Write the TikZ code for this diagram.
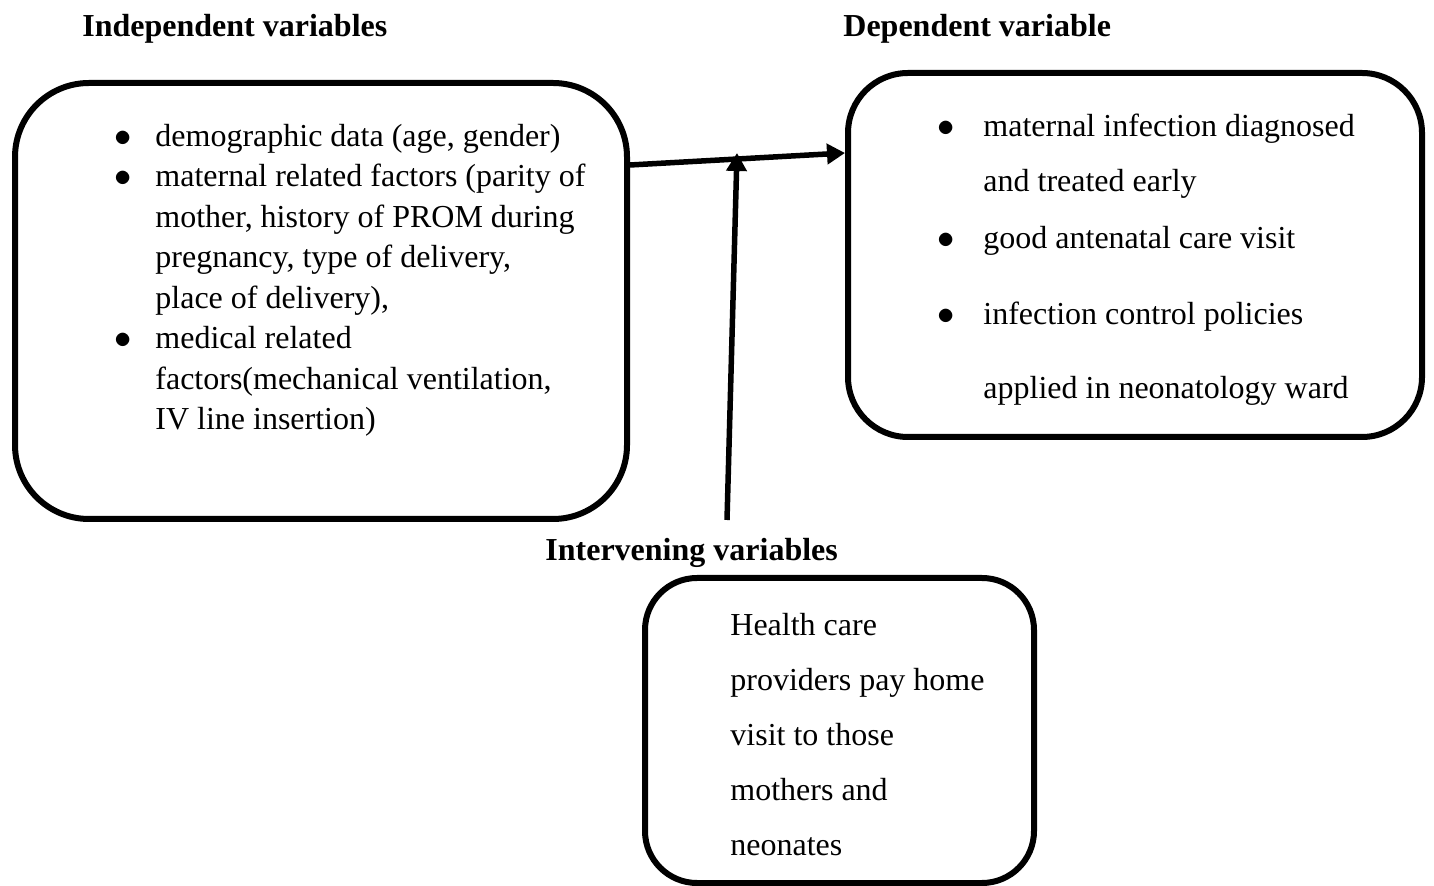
\documentclass[tikz,border=0pt]{standalone}
\usepackage{fontspec}
\setmainfont{Liberation Serif}
\usetikzlibrary{arrows.meta,positioning,calc}

\newcommand{\bul}[1]{\makebox[#1][l]{\hspace*{1pt}$\bullet$}}

\begin{document}
\begin{tikzpicture}[
  x=.5pt,y=-.5pt,
  box/.style={draw,line width=3pt,inner sep=0pt},
  txt/.style={font=\fontsize{16}{20.25}\selectfont,align=left,inner sep=0pt,anchor=base west},
  head/.style={font=\fontsize{16}{20}\selectfont\bfseries,inner sep=0pt,anchor=base west},
  arr/.style={line width=2.75pt,-{Triangle[length=9pt,width=10pt]}}
]
  \useasboundingbox (0,0) rectangle (1434,886);
  % headings
  \node[head] (indephead) at (82,37) {Independent variables};
  \node[head] (dephead) at (843,37) {Dependent variable};
  \node[head] (intervhead) at (545,561) {Intervening variables};
  % boxes
  \node[box,rounded corners=37pt,minimum width=306pt,minimum height=218pt] (indep) at (321,301) {};
  \node[box,rounded corners=30pt,minimum width=287pt,minimum height=182pt] (dep) at (1135,255) {};
  \node[box,rounded corners=26pt,minimum width=194.5pt,minimum height=152.5pt] (interv) at (839.5,730.5) {};
  % box texts (anchored at the last baseline)
  \node[txt] (indeptxt) at (112,430) {\bul{21.5pt}demographic data (age, gender)\\
    \bul{21.5pt}maternal related factors (parity of\\
    \hspace*{21.5pt}mother, history of PROM during\\
    \hspace*{21.5pt}pregnancy, type of delivery,\\
    \hspace*{21.5pt}place of delivery),\\
    \bul{21.5pt}medical related\\
    \hspace*{21.5pt}factors(mechanical ventilation,\\
    \hspace*{21.5pt}IV line insertion)};
  \node[txt] (deptxt) at (935,399) {\bul{24pt}maternal infection diagnosed\\[7.25pt]
    \hspace*{24pt}and treated early\\[8.25pt]
    \bul{24pt}good antenatal care visit\\[17.75pt]
    \bul{24pt}infection control policies\\[16.75pt]
    \hspace*{24pt}applied in neonatology ward};
  \node[txt,font=\fontsize{16}{27.5}\selectfont] (intervtxt) at (730,855) {Health care\\
    providers pay home\\
    visit to those\\
    mothers and\\
    neonates};
  % connectors
  \coordinate (indepout) at (630,165);
  \coordinate (depin) at (845,153);
  \coordinate (intervup) at (727,520);
  \coordinate (meet) at (737,153);
  \draw[arr] (indepout) -- (depin);
  \draw[arr] (intervup) -- (meet);
\end{tikzpicture}
\end{document}
